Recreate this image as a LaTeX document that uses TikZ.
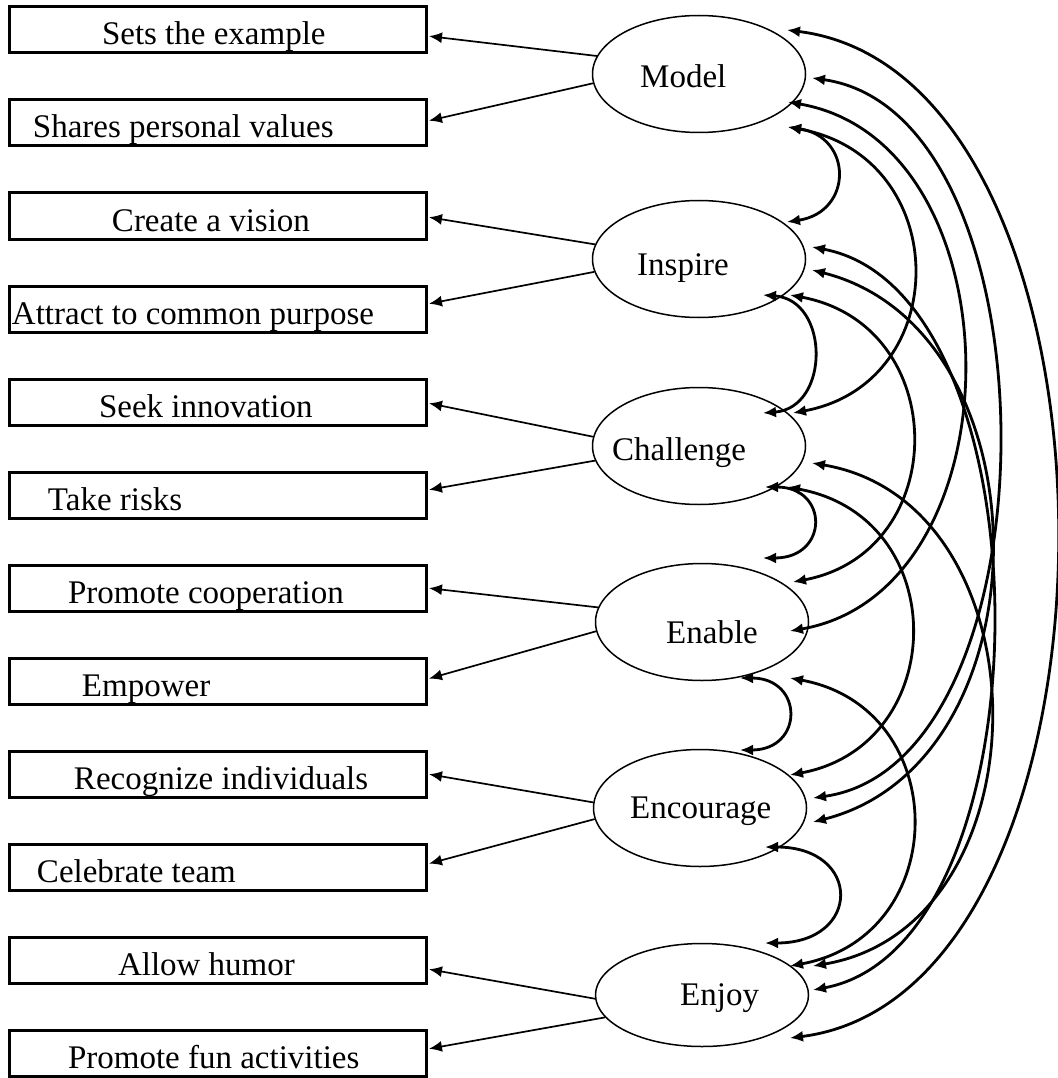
\documentclass[tikz,border=0pt]{standalone}
\usepackage{fontspec}
\setmainfont{Liberation Serif}
\usetikzlibrary{shapes.geometric,arrows.meta}

\tikzset{
  item/.style={draw, line width=3pt, inner sep=0pt, minimum width=417pt, text height=38pt, text depth=8pt},
  factor/.style={shape=ellipse, draw, line width=1.5pt, inner sep=0pt, minimum width=213pt, minimum height=117pt},
  load/.style={-{Latex[length=13pt,width=11pt]}, line width=1.7pt, shorten >=1.5pt},
  cov/.style={{Latex[length=13pt,width=11pt]}-{Latex[length=13pt,width=11pt]}, line width=2.8pt}
}

\begin{document}
\begin{tikzpicture}[x=1pt,y=1pt,font=\fontsize{33}{40}\selectfont]
  \useasboundingbox (0,0) rectangle (1057,-1078);

  % items
  \node[item] (setsExample) at (217.5,-30) {\makebox[417pt][l]{\hspace*{93pt}Sets the example}};
  \node[item] (sharesValues) at (217.5,-123) {\makebox[417pt][l]{\hspace*{24pt}Shares personal values}};
  \node[item] (createVision) at (217.5,-216) {\makebox[417pt][l]{\hspace*{103pt}Create a vision}};
  \node[item] (attractPurpose) at (217.5,-309) {\makebox[417pt][l]{\hspace*{3pt}Attract to common purpose}};
  \node[item] (seekInnovation) at (217.5,-402) {\makebox[417pt][l]{\hspace*{90pt}Seek innovation}};
  \node[item] (takeRisks) at (217.5,-495) {\makebox[417pt][l]{\hspace*{39pt}Take risks}};
  \node[item] (promoteCooperation) at (217.5,-588) {\makebox[417pt][l]{\hspace*{59pt}Promote cooperation}};
  \node[item] (empower) at (217.5,-681) {\makebox[417pt][l]{\hspace*{73pt}Empower}};
  \node[item] (recognizeIndividuals) at (217.5,-774) {\makebox[417pt][l]{\hspace*{65pt}Recognize individuals}};
  \node[item] (celebrateTeam) at (217.5,-867) {\makebox[417pt][l]{\hspace*{28pt}Celebrate team}};
  \node[item] (allowHumor) at (217.5,-960) {\makebox[417pt][l]{\hspace*{109pt}Allow humor}};
  \node[item] (promoteFun) at (217.5,-1053) {\makebox[417pt][l]{\hspace*{59pt}Promote fun activities}};

  % factors
  \node[factor] (model) at (699,-74) {};
  \node[factor] (inspire) at (699,-259) {};
  \node[factor] (challenge) at (699,-446) {};
  \node[factor] (enable) at (702,-622) {};
  \node[factor] (encourage) at (700,-808) {};
  \node[factor, minimum height=103pt] (enjoy) at (702,-995) {};

  \node[anchor=base west, inner sep=0pt] (modelText) at (640,-88) {Model};
  \node[anchor=base west, inner sep=0pt] (inspireText) at (637,-275) {Inspire};
  \node[anchor=base west, inner sep=0pt] (challengeText) at (612,-460) {Challenge};
  \node[anchor=base west, inner sep=0pt] (enableText) at (666,-643) {Enable};
  \node[anchor=base west, inner sep=0pt] (encourageText) at (630,-818) {Encourage};
  \node[anchor=base west, inner sep=0pt] (enjoyText) at (680,-1005) {Enjoy};

  % loadings
  \draw[load] (model.170) -- ([yshift=-6pt]setsExample.east);
  \draw[load] (model.185) -- ([yshift=2pt]sharesValues.east);
  \draw[load] (inspire.172) -- ([yshift=-1pt]createVision.east);
  \draw[load] (inspire.187) -- ([yshift=5pt]attractPurpose.east);
  \draw[load] (challenge.175) -- ([yshift=-1pt]seekInnovation.east);
  \draw[load] (challenge.188) -- ([yshift=5pt]takeRisks.east);
  \draw[load] (enable.172) -- (promoteCooperation.east);
  \draw[load] (enable.185) -- ([yshift=2pt]empower.east);
  \draw[load] (encourage.177) -- (recognizeIndividuals.east);
  \draw[load] (encourage.186) -- ([yshift=3pt]celebrateTeam.east);
  \draw[load] (enjoy.182) -- ([yshift=-9pt]allowHumor.east);
  \draw[load] (enjoy.193) -- ([yshift=4pt]promoteFun.east);

  % covariances
  \draw[cov] ([shift={(88,44)}]model.center) .. controls +(358,-45) and +(355,45) .. ([shift={(88,-43)}]enjoy.center);
  \draw[cov] ([shift={(113,-4)}]model.center) .. controls +(248,-35) and +(247,35) .. ([shift={(113,10)}]encourage.center);
  \draw[cov] ([shift={(89,-28)}]model.center) .. controls +(233,-40) and +(231,40) .. ([shift={(88,-9)}]enable.center);
  \draw[cov] ([shift={(89,-53)}]model.center) .. controls +(166,-30) and +(161,30) .. ([shift={(94,33)}]challenge.center);
  \draw[cov] ([shift={(89,-53)}]model.center) .. controls +(65,-10) and +(66,10) .. ([shift={(88,37)}]inspire.center);
  \draw[cov] ([shift={(113,12)}]inspire.center) .. controls +(240,-45) and +(239,45) .. ([shift={(111,5)}]enjoy.center);
  \draw[cov] ([shift={(113,-11)}]inspire.center) .. controls +(238,-60) and +(237,60) .. ([shift={(113,-14)}]encourage.center);
  \draw[cov] ([shift={(91,-36)}]inspire.center) .. controls +(162,-30) and +(159,30) .. ([shift={(91,40)}]enable.center);
  \draw[cov] ([shift={(64,-36)}]inspire.center) .. controls +(67,-5) and +(67,5) .. ([shift={(64,33)}]challenge.center);
  \draw[cov] ([shift={(113,-17)}]challenge.center) .. controls +(237,-40) and +(236,40) .. ([shift={(111,29)}]enjoy.center);
  \draw[cov] ([shift={(88,-41)}]challenge.center) .. controls +(166,-30) and +(160,30) .. ([shift={(90,33)}]encourage.center);
  \draw[cov] ([shift={(66,-41)}]challenge.center) .. controls +(64,0) and +(66,0) .. ([shift={(61,64)}]enable.center);
  \draw[cov] ([shift={(88,-56)}]enable.center) .. controls +(163,-30) and +(163,30) .. ([shift={(88,29)}]enjoy.center);
  \draw[cov] ([shift={(38,-56)}]enable.center) .. controls +(64,0) and +(64,0) .. ([shift={(40,58)}]encourage.center);
  \draw[cov] ([shift={(65,-39)}]encourage.center) .. controls +(97,0) and +(97,0) .. ([shift={(63,52)}]enjoy.center);
\end{tikzpicture}
\end{document}
